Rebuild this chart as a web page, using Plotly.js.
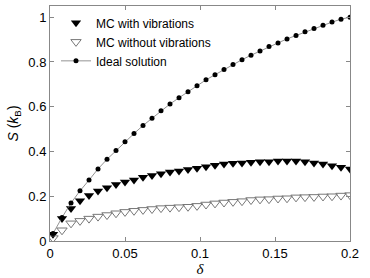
<!DOCTYPE html>
<html>
<head>
<meta charset="utf-8">
<script src="https://cdn.plot.ly/plotly-3.0.1.min.js"></script>
<style>html,body{margin:0;padding:0;background:#fff;}#chart{width:370px;height:278px;}</style>
</head>
<body>
<div id="chart"></div>
<script>
const delta = [0.002,0.008,0.014,0.020,0.026,0.032,0.038,0.044,0.050,0.056,0.062,0.068,0.074,0.080,0.086,0.092,0.098,0.104,0.110,0.116,0.122,0.128,0.134,0.140,0.146,0.152,0.158,0.164,0.170,0.176,0.182,0.188,0.194,0.200];
const mcWithVib = [0.030,0.101,0.145,0.180,0.203,0.223,0.238,0.253,0.264,0.273,0.285,0.293,0.300,0.308,0.313,0.320,0.325,0.332,0.339,0.344,0.347,0.348,0.352,0.354,0.354,0.357,0.358,0.357,0.354,0.348,0.344,0.336,0.329,0.322];
const mcWithoutVib = [0.013,0.048,0.079,0.090,0.100,0.109,0.116,0.124,0.130,0.135,0.139,0.143,0.147,0.149,0.151,0.153,0.157,0.163,0.168,0.172,0.175,0.178,0.183,0.186,0.187,0.190,0.191,0.195,0.196,0.197,0.199,0.200,0.203,0.205];
const idealSolution = [0.033,0.105,0.170,0.224,0.272,0.322,0.365,0.404,0.443,0.480,0.516,0.549,0.582,0.612,0.640,0.667,0.694,0.720,0.743,0.766,0.789,0.810,0.830,0.849,0.869,0.885,0.903,0.918,0.935,0.949,0.964,0.978,0.991,1.000];
const xTicks = [0,0.05,0.1,0.15,0.2];
const xTickLabels = ['0','0.05','0.1','0.15','0.2'];
const yTicks = [0,0.2,0.4,0.6,0.8,1];
const yTickLabels = ['0','0.2','0.4','0.6','0.8','1'];

const traces = [
  {x: delta, y: mcWithVib, name: 'MC with vibrations', mode: 'markers', type: 'scatter',
   marker: {symbol: 'triangle-down', size: 9, color: '#000', line: {width: 0}}},
  {x: delta, y: mcWithoutVib, name: 'MC without vibrations', mode: 'markers', type: 'scatter',
   marker: {symbol: 'triangle-down-open', size: 9, color: '#777', line: {width: 1}}},
  {x: delta, y: idealSolution, name: 'Ideal solution', mode: 'lines+markers', type: 'scatter',
   line: {color: '#777', width: 0.8}, marker: {symbol: 'circle', size: 5, color: '#000'}}
];

const axisCommon = {showgrid: false, zeroline: false, showline: true, mirror: 'ticks', linecolor: '#888', linewidth: 1,
  ticks: 'inside', ticklen: 4, tickcolor: '#888', tickfont: {family: 'Liberation Sans, Arial, sans-serif', size: 13, color: '#000'}};

const layout = {
  width: 370, height: 278,
  margin: {l: 50, r: 20, t: 6, b: 37},
  paper_bgcolor: '#fff', plot_bgcolor: '#fff',
  showlegend: true,
  legend: {x: 0.02, y: 0.99, xanchor: 'left', yanchor: 'top', bgcolor: 'rgba(0,0,0,0)',
    font: {family: 'Liberation Sans, Arial, sans-serif', size: 12, color: '#000'}, tracegroupgap: 0},
  xaxis: Object.assign({}, axisCommon, {range: [0, 0.2], tickvals: xTicks, ticktext: xTickLabels,
    title: {text: '<i>δ</i>', font: {family: 'Liberation Serif, serif', size: 15, color: '#000'}, standoff: 2}}),
  yaxis: Object.assign({}, axisCommon, {range: [0, 1.05], tickvals: yTicks, ticktext: yTickLabels,
    title: {text: '<i>S</i> (<i>k</i><sub>B</sub>)', font: {family: 'Liberation Sans, Arial, sans-serif', size: 14, color: '#000'}, standoff: 6}})
};

Plotly.newPlot('chart', traces, layout, {displayModeBar: false, staticPlot: true});
</script>
</body>
</html>
